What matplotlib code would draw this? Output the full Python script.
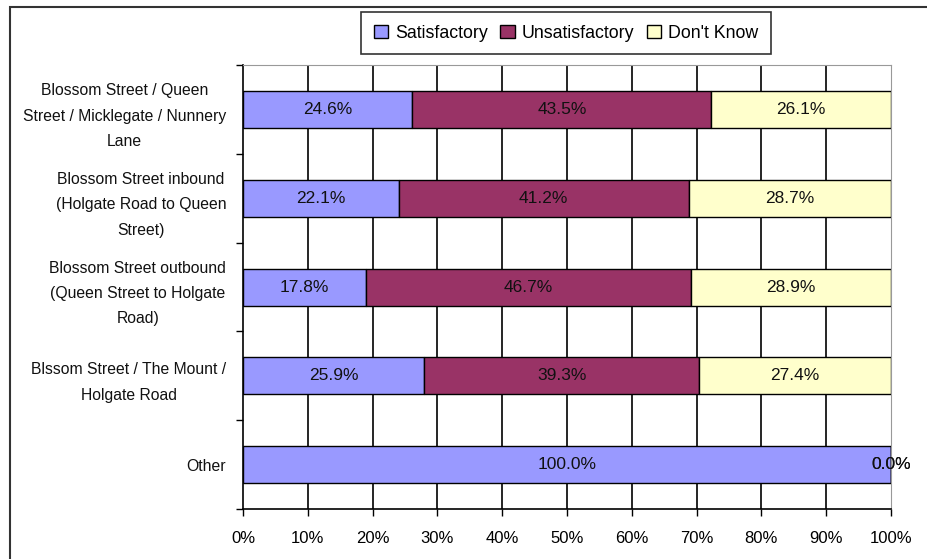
import matplotlib
matplotlib.use("Agg")
import matplotlib.pyplot as plt
from matplotlib.patches import Rectangle
import numpy as np

# Chart data
categories = ["Blossom Street / Queen\nStreet / Micklegate / Nunnery\nLane",
              "Blossom Street inbound\n(Holgate Road to Queen\nStreet)",
              "Blossom Street outbound\n(Queen Street to Holgate\nRoad)",
              "Blssom Street / The Mount /\nHolgate Road",
              "Other"]
satisfactory   = [24.6, 22.1, 17.8, 25.9, 100.0]
unsatisfactory = [43.5, 41.2, 46.7, 39.3, 0.0]
dont_know      = [26.1, 28.7, 28.9, 27.4, 0.0]
series_names   = ["Satisfactory", "Unsatisfactory", "Don't Know"]
x_ticks        = [0, 10, 20, 30, 40, 50, 60, 70, 80, 90, 100]

COLOR_SAT   = "#9999FF"
COLOR_UNSAT = "#993366"
COLOR_DK    = "#FFFFCC"

plt.rcParams["font.family"] = ["Liberation Sans", "DejaVu Sans"]
plt.rcParams["font.size"] = 11

fig = plt.figure(figsize=(9.27, 5.59), dpi=100)
ax = fig.add_axes([0.2621, 0.0894, 0.9612 - 0.2621, 0.8837 - 0.0894])

series = [satisfactory, unsatisfactory, dont_know]
colors = [COLOR_SAT, COLOR_UNSAT, COLOR_DK]
totals = np.array(satisfactory) + np.array(unsatisfactory) + np.array(dont_know)
y = np.arange(len(categories))

# 100% stacked bars, labelled with the survey percentages
left = np.zeros(len(categories))
handles = []
for vals, col, name in zip(series, colors, series_names):
    widths = np.array(vals) / totals * 100
    h = ax.barh(y, widths, left=left, height=0.417, color=col,
                edgecolor="black", linewidth=1, label=name, zorder=3)
    handles.append(h)
    for yi, l, w, v in zip(y, left, widths, vals):
        ax.text(l + w / 2, yi, f"{v:.1f}%", ha="center", va="center",
                fontsize=12.5, color="#111111", zorder=4)
    left = left + widths

ax.set_xlim(0, 100)
ax.set_ylim(len(categories) - 0.5, -0.5)
ax.set_xticks(x_ticks)
ax.set_xticklabels([f"{t}%" for t in x_ticks], fontsize=12)
ax.set_yticks(np.arange(len(categories) + 1) - 0.5)
ax.set_yticklabels([])
ax.set_yticks(y, minor=True)
ax.set_yticklabels(categories, minor=True, multialignment="center",
                   linespacing=1.85, fontsize=11.3, color="#111111")
ax.tick_params(axis="y", which="minor", length=0, pad=12)
ax.tick_params(axis="y", which="major", length=5, width=1, direction="out")
ax.tick_params(axis="x", length=5, width=1, direction="out", pad=11)

for t in x_ticks[1:-1]:
    ax.axvline(t, color="black", linewidth=1.2, zorder=1)

for side in ["top", "right"]:
    ax.spines[side].set_color("#999999")
    ax.spines[side].set_linewidth(0.8)
for side in ["left", "bottom"]:
    ax.spines[side].set_color("black")
    ax.spines[side].set_linewidth(1.2)

leg = fig.legend(handles=handles, loc="center", bbox_to_anchor=(566 / 927, 1 - 33 / 559),
                 ncol=3, frameon=True, fancybox=False, edgecolor="black",
                 handlelength=0.8, handleheight=0.8, handletextpad=0.4,
                 columnspacing=0.7, borderpad=0.7, fontsize=12.8)
leg.get_frame().set_linewidth(1.2)

# outer chart frame (cropped on right and bottom)
fig.patches.append(Rectangle((10 / 927, -0.1), 1.2, 1 - 7 / 559 + 0.1,
                             transform=fig.transFigure, fill=False,
                             edgecolor="#333333", linewidth=1.5))

fig.savefig("out.png", dpi=100)
